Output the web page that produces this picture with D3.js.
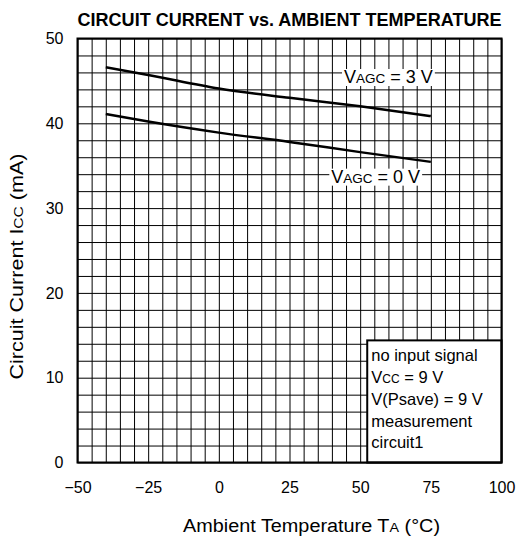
<!DOCTYPE html>
<html>
<head>
    <title>Circuit Current vs. Ambient Temperature</title>
    <script src="https://cdnjs.cloudflare.com/ajax/libs/d3/7.6.1/d3.min.js"></script>
    <style>
        html,
        body {
            margin: 0;
            padding: 0;
            background-color: #ffffff;
        }

        svg text {
            font-family: 'Liberation Sans', Arial, sans-serif;
            fill: #000;
        }

        .grid line {
            stroke: #000;
            stroke-width: 1;
        }

        .grid path {
            display: none;
        }
    </style>
</head>

<body>
    <div id="chart"></div>
    <script>
        // values
        const temps = [-40, -25, 0, 25, 50, 75];
        const icc3V = [46.6, 45.7, 44.1, 43.0, 42.0, 40.85];
        const icc0V = [41.1, 40.2, 38.9, 37.8, 36.6, 35.45];

        const xTicks = [-50, -25, 0, 25, 50, 75, 100];
        const yTicks = [0, 10, 20, 30, 40, 50];

        const noteLines = [
            [["no input signal", false]],
            [["V", false], ["CC", true], [" = 9 V", false]],
            [["V(Psave) = 9 V", false]],
            [["measurement", false]],
            [["circuit1", false]]
        ];

        const width = 521;
        const height = 542;
        const margin = { top: 38.5, left: 77.5 };
        const plotW = 424;
        const plotH = 424;

        const svg = d3.select("#chart")
            .append("svg")
            .attr("width", width)
            .attr("height", height);

        const g = svg.append("g")
            .attr("transform", "translate(" + margin.left + "," + margin.top + ")");

        const x = d3.scaleLinear().domain([-50, 100]).range([0, plotW]);
        const y = d3.scaleLinear().domain([0, 50]).range([plotH, 0]);

        // grid: every 5 degC and every 2 mA
        g.append("g")
            .attr("class", "grid")
            .attr("transform", "translate(0," + plotH + ")")
            .call(d3.axisBottom(x).tickValues(d3.range(-50, 101, 5)).tickSize(-plotH).tickFormat(""));

        g.append("g")
            .attr("class", "grid")
            .call(d3.axisLeft(y).tickValues(d3.range(0, 51, 2)).tickSize(-plotW).tickFormat(""));

        // tick labels
        const xAxis = g.append("g")
            .attr("transform", "translate(0," + plotH + ")")
            .call(d3.axisBottom(x).tickValues(xTicks).tickSize(0).tickPadding(19)
                .tickFormat(d => d < 0 ? "\u2212" + Math.abs(d) : d));
        xAxis.select(".domain").remove();
        xAxis.selectAll("text").style("font-size", "16px").style("font-family", "'Liberation Sans', Arial, sans-serif");

        const yAxis = g.append("g")
            .call(d3.axisLeft(y).tickValues(yTicks).tickSize(0).tickPadding(14));
        yAxis.select(".domain").remove();
        yAxis.selectAll("text").style("font-size", "16px").style("font-family", "'Liberation Sans', Arial, sans-serif");

        // curves
        const line = d3.line()
            .x((d, i) => x(temps[i]))
            .y(d => y(d))
            .curve(d3.curveMonotoneX);

        [icc3V, icc0V].forEach(series => {
            g.append("path")
                .datum(series)
                .attr("fill", "none")
                .attr("stroke", "#000")
                .attr("stroke-width", 2.5)
                .attr("d", line);
        });

        // curve labels with white backing
        function curveLabel(tx, iy, value) {
            const t = g.append("text")
                .attr("x", x(tx))
                .attr("y", y(iy))
                .attr("text-anchor", "middle")
                .style("font-size", "18px");
            t.append("tspan").text("V");
            t.append("tspan").style("font-size", "13.5px").text("AGC");
            t.append("tspan").text(" = " + value + " V");
            const bb = t.node().getBBox();
            g.insert("rect", function () { return t.node(); })
                .attr("x", bb.x - 2)
                .attr("y", bb.y + 2)
                .attr("width", bb.width + 4)
                .attr("height", bb.height - 3)
                .attr("fill", "#fff");
        }
        curveLabel(60, 44.75, 3);
        curveLabel(55.5, 33, 0);

        // note box
        g.append("rect")
            .attr("x", x(52.5))
            .attr("y", y(14.4))
            .attr("width", x(100) - x(52.5))
            .attr("height", y(0) - y(14.4))
            .attr("fill", "#fff")
            .attr("stroke", "#000")
            .attr("stroke-width", 2);

        noteLines.forEach((parts, i) => {
            const t = g.append("text")
                .attr("x", x(52.5) + 4)
                .attr("y", y(14.4) + 21 + i * 21.75)
                .style("font-size", "16.5px");
            parts.forEach(p => {
                t.append("tspan").style("font-size", p[1] ? "12px" : null).text(p[0]);
            });
        });

        // frame
        g.append("rect")
            .attr("width", plotW)
            .attr("height", plotH)
            .attr("fill", "none")
            .attr("stroke", "#000")
            .attr("stroke-width", 2);

        // titles
        svg.append("text")
            .attr("x", margin.left)
            .attr("y", 26)
            .attr("textLength", 424)
            .attr("lengthAdjust", "spacingAndGlyphs")
            .style("font-size", "18px")
            .style("font-weight", "bold")
            .text("CIRCUIT CURRENT vs. AMBIENT TEMPERATURE");

        const xt = svg.append("text")
            .attr("x", 311.5)
            .attr("y", 531.5)
            .attr("text-anchor", "middle")
            .attr("textLength", 257)
            .attr("lengthAdjust", "spacingAndGlyphs")
            .style("font-size", "18px");
        xt.append("tspan").text("Ambient Temperature T");
        xt.append("tspan").style("font-size", "13px").text("A");
        xt.append("tspan").text(" (\u00B0C)");

        const yt = svg.append("text")
            .attr("transform", "translate(22.5,266.5) rotate(-90)")
            .attr("text-anchor", "middle")
            .attr("textLength", 226)
            .attr("lengthAdjust", "spacingAndGlyphs")
            .style("font-size", "18px");
        yt.append("tspan").text("Circuit Current I");
        yt.append("tspan").style("font-size", "13px").text("CC");
        yt.append("tspan").text(" (mA)");
    </script>
</body>
</html>
